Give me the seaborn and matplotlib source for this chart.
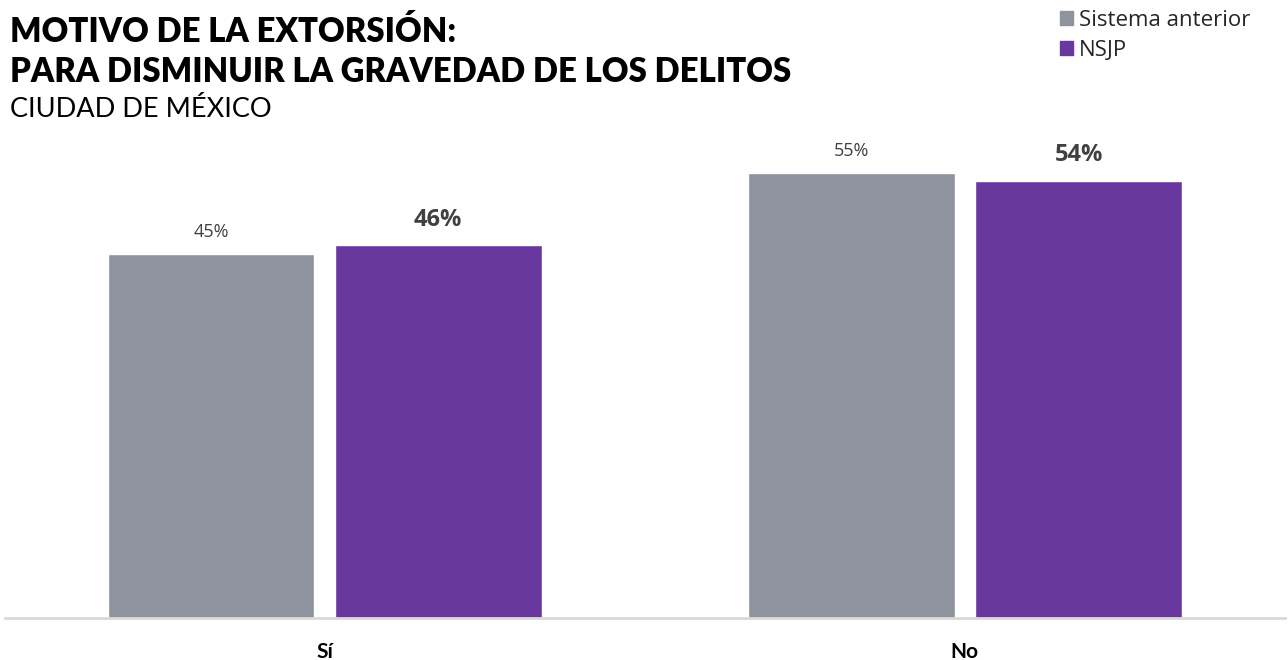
import pandas as pd
import matplotlib.pyplot as plt
import seaborn as sns

# Data
categories = ["Sí", "No"]
series = ["Sistema anterior", "NSJP"]
sistema_anterior = [45, 55]
nsjp = [46, 54]
colors = ["#8E939E", "#68389E"]

df = pd.DataFrame({
    "respuesta": categories * 2,
    "sistema": [series[0]] * 2 + [series[1]] * 2,
    "pct": sistema_anterior + nsjp,
})

sns.set_style("white")
plt.rcParams['font.family'] = ['Lato', 'DejaVu Sans']

fig = plt.figure(figsize=(12.88, 6.6), dpi=100)
ax = fig.add_axes([4.5 / 1288, 42 / 660, 1280.5 / 1288, 486 / 660])

sns.barplot(data=df, x="respuesta", y="pct", hue="sistema", hue_order=series,
            palette=colors, width=0.71, gap=0.09, saturation=1, ax=ax, legend=False)

ax.set_ylim(0, 60)
ax.set_xlim(-0.5, 1.5)
ax.set_xlabel("")
ax.set_ylabel("")
ax.set_yticks([])
for s in ["top", "right", "left"]:
    ax.spines[s].set_visible(False)
ax.spines["bottom"].set_color("#D9D9D9")
ax.spines["bottom"].set_linewidth(2)
ax.tick_params(axis="x", length=0, pad=17)
for lbl in ax.get_xticklabels():
    lbl.set_fontsize(15)
    lbl.set_fontweight("bold")
    lbl.set_color("black")

# value labels
ax.bar_label(ax.containers[0], labels=[f"{v}%" for v in sistema_anterior],
             padding=9, fontsize=13, color="#404040", family="Open Sans")
ax.bar_label(ax.containers[1], labels=[f"{v}%" for v in nsjp],
             padding=10, fontsize=17, color="#404040", fontweight="bold",
             family="Open Sans")

# titles
fig.text(10 / 1288, 1 - 42 / 660, "MOTIVO DE LA EXTORSIÓN:", fontsize=23.7,
         fontweight="heavy", color="black")
fig.text(10 / 1288, 1 - 82 / 660, "PARA DISMINUIR LA GRAVEDAD DE LOS DELITOS",
         fontsize=23.7, fontweight="heavy", color="black")
fig.text(10 / 1288, 1 - 117 / 660, "CIUDAD DE MÉXICO", fontsize=19.5,
         fontweight="normal", color="black")

# legend
handles = [plt.Rectangle((0, 0), 1, 1, color=c) for c in colors]
fig.legend(handles, series, loc="upper right",
           bbox_to_anchor=(1250 / 1288, 1 - 10 / 660),
           frameon=False, handlelength=0.6, handleheight=0.6,
           handletextpad=0.25, labelspacing=0.4, borderpad=0, borderaxespad=0,
           prop={"family": "Open Sans", "size": 16})

fig.savefig("out.png", dpi=100)
